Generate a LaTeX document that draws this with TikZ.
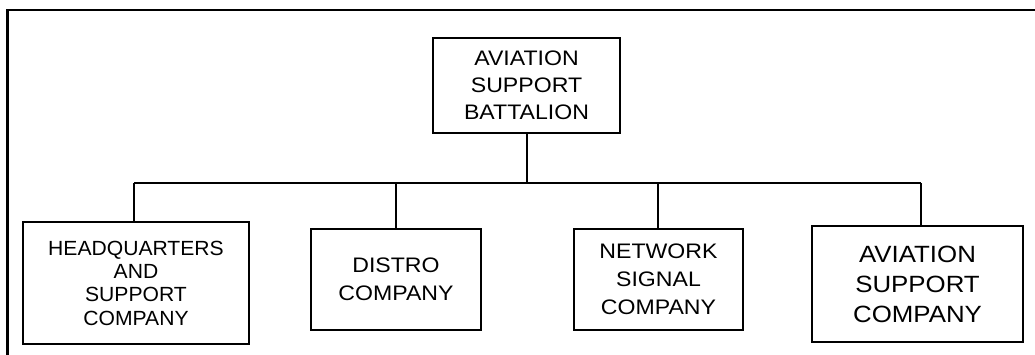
\documentclass[tikz,border=0pt]{standalone}
\usepackage{fontspec}
\setmainfont{Liberation Sans}
\newfontfamily\widefont[FakeStretch=1.1]{Liberation Sans}
\newfontfamily\hqfont[FakeStretch=1.03]{Liberation Sans}
\begin{document}
\begin{tikzpicture}[x=1pt,y=-1pt,
  unitbox/.style={draw=black, line width=1.6pt, inner sep=0pt, align=center,
    minimum width=#1},
  conn/.style={draw=black, line width=1.4pt}]
\useasboundingbox (0,0) rectangle (1035,354);
\begin{scope}
\clip (0,0) rectangle (1035,354);
\draw[line width=2.7pt] (7.3,10) rectangle (1045,365);
\end{scope}
\node[unitbox=187pt, minimum height=95pt, font=\widefont\fontsize{21}{27}\selectfont]
  (top) at (526.5,85.5) {AVIATION\\SUPPORT\\BATTALION};
\node[unitbox=226pt, minimum height=122pt, font=\hqfont\fontsize{20.5}{23.3}\selectfont]
  (hq) at (136,283) {HEADQUARTERS\\AND\\SUPPORT\\COMPANY};
\node[unitbox=170pt, minimum height=101pt, font=\widefont\fontsize{21}{28}\selectfont]
  (distro) at (396,279.5) {DISTRO\\COMPANY};
\node[unitbox=169pt, minimum height=101pt, font=\widefont\fontsize{21}{28}\selectfont]
  (net) at (658.5,279.5) {NETWORK\\SIGNAL\\COMPANY};
\node[unitbox=211pt, minimum height=116pt, font=\widefont\fontsize{23.5}{30}\selectfont]
  (asc) at (917.5,284) {AVIATION\\SUPPORT\\COMPANY};
\coordinate (trunk) at (527,183);
\coordinate (b1) at (134,183);
\coordinate (b2) at (396,183);
\coordinate (b3) at (658,183);
\coordinate (b4) at (921,183);
\draw[conn] (top.south -| trunk) -- (trunk);
\draw[conn] (b1) -- (b4);
\draw[conn] (b1) -- (b1 |- hq.north);
\draw[conn] (b2) -- (b2 |- distro.north);
\draw[conn] (b3) -- (b3 |- net.north);
\draw[conn] (b4) -- (b4 |- asc.north);
\end{tikzpicture}
\end{document}
